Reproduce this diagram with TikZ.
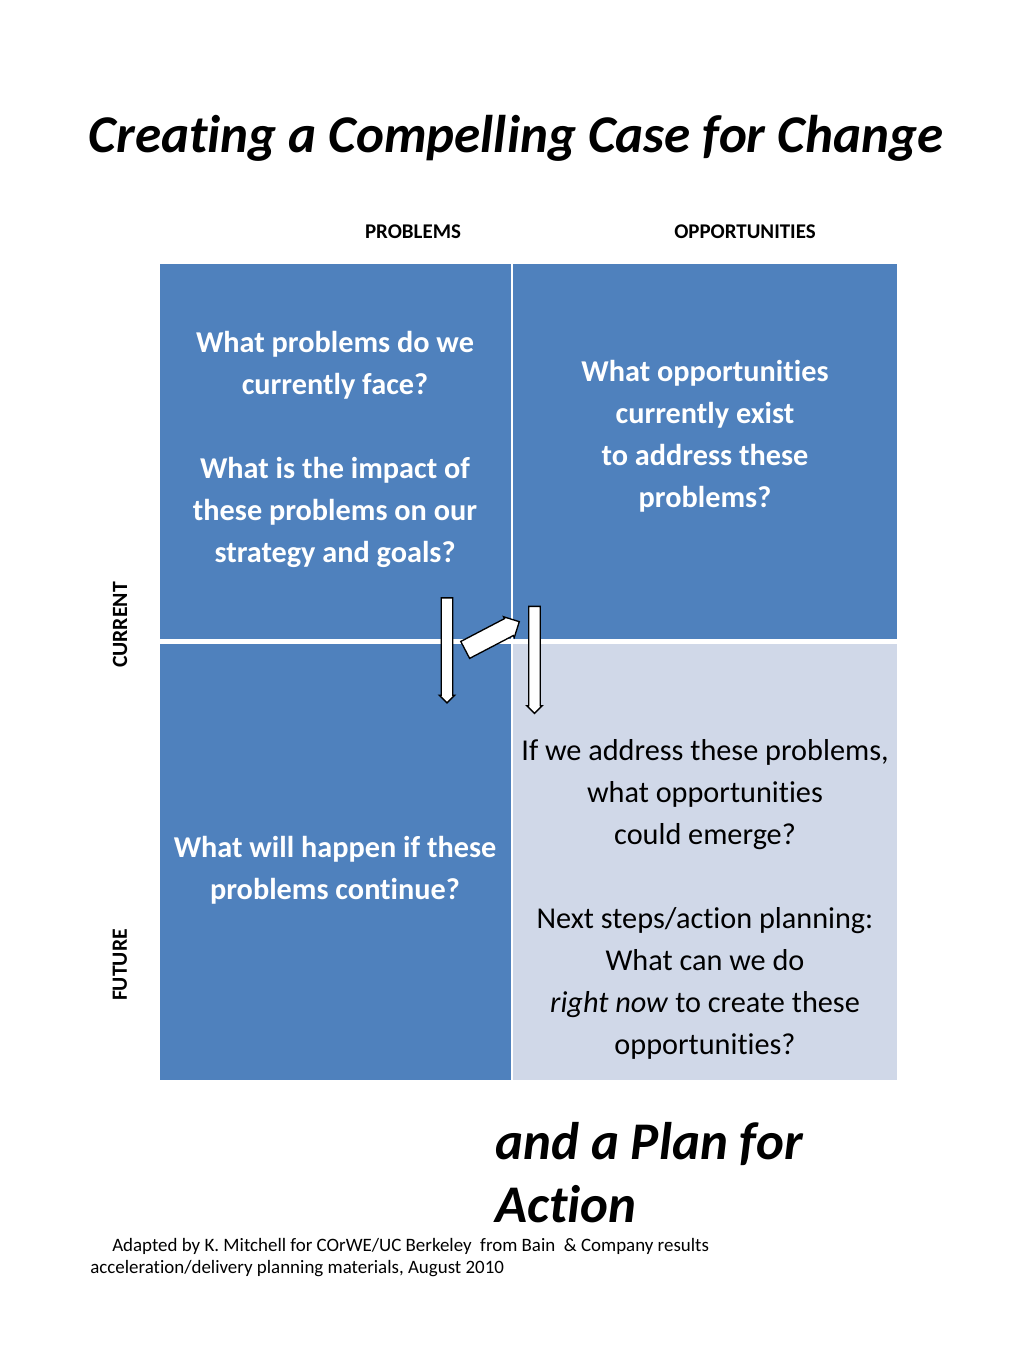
\documentclass[tikz,border=0pt]{standalone}
\usepackage{fontspec}
\setmainfont[RawFeature={-liga;-clig;-calt}]{Carlito}
\usetikzlibrary{shapes.arrows}
\definecolor{qblue}{HTML}{4F81BD}
\definecolor{qlight}{HTML}{D0D8E8}
\begin{document}
\begin{tikzpicture}[x=0.75pt,y=-0.75pt,
  qtext/.style={align=center,inner sep=0pt,font=\fontsize{22.7}{31.5}\selectfont},
  qbold/.style={qtext,text=white,font=\fontsize{22.7}{31.5}\selectfont\bfseries},
  axis/.style={inner sep=0pt,font=\fontsize{15.7}{18}\selectfont\bfseries},
  blockarrow/.style={single arrow,draw=black,fill=white,line width=1pt,inner xsep=0pt,single arrow head extend=1pt,single arrow tip angle=90}
]
\useasboundingbox (0,0) rectangle (1024,1365);
\fill[white] (0,0) rectangle (1024,1365);
% quadrants
\fill[qblue]  (160,264) rectangle (511,639);
\fill[qblue]  (513,264) rectangle (897,639);
\fill[qblue]  (160,644) rectangle (511,1080);
\fill[qlight] (513,644) rectangle (897,1080);
% title
\node[anchor=base,inner sep=0pt,font=\fontsize{39.8}{48}\selectfont\bfseries\itshape] (title) at (516,152) {Creating a Compelling Case for Change};
% column labels
\node[axis] (problems) at (413,232) {PROBLEMS};
\node[axis] (opps) at (745,232) {OPPORTUNITIES};
\node[axis,rotate=90,font=\fontsize{16.3}{18}\selectfont\bfseries] (current) at (120,625) {CURRENT};
\node[axis,rotate=90,font=\fontsize{16.3}{18}\selectfont\bfseries] (future) at (120,965) {FUTURE};
% quadrant texts
\node[qbold] (tl) at (335,449) {What problems do we\\currently face?\\[31.5pt]What is the impact of\\these problems on our\\strategy and goals?};
\node[qbold] (tr) at (705,436) {What opportunities\\currently exist\\to address these\\problems?};
\node[qbold] (bl) at (335,870) {What will happen if these\\problems continue?};
\node[qtext,text=black] (br) at (705,899) {If we address these problems,\\what opportunities\\could emerge?\\[31.5pt]Next steps/action planning:\\What can we do\\\textit{right now} to create these\\opportunities?};
% arrows
\node[blockarrow,rotate=-90,minimum height=78.75pt,minimum width=11.5pt,inner ysep=2.6pt] (a1) at (447,647.5) {};
\node[blockarrow,rotate=-90,minimum height=80.25pt,minimum width=11.5pt,inner ysep=2.6pt] (a3) at (534.5,657) {};
\node[blockarrow,rotate=27.6,minimum height=45.75pt,minimum width=17.5pt,inner ysep=4pt] (a2) at (488,638) {};
% bottom text
\node[anchor=base west,inner sep=0pt,font=\fontsize{39.7}{47.25}\selectfont\bfseries\itshape] (plan) at (495,1159) {and a Plan for};
\node[anchor=base west,inner sep=0pt,font=\fontsize{39.7}{47.25}\selectfont\bfseries\itshape] (action) at (495,1222) {Action};
\node[anchor=base west,inner sep=0pt,font=\fontsize{14.2}{16.5}\selectfont] (credit1) at (112,1251) {Adapted by K. Mitchell for COrWE/UC Berkeley\ \ from Bain\ \ \& Company results};
\node[anchor=base west,inner sep=0pt,font=\fontsize{14.2}{16.5}\selectfont] (credit2) at (90,1273) {acceleration/delivery planning materials, August 2010};
\end{tikzpicture}
\end{document}
